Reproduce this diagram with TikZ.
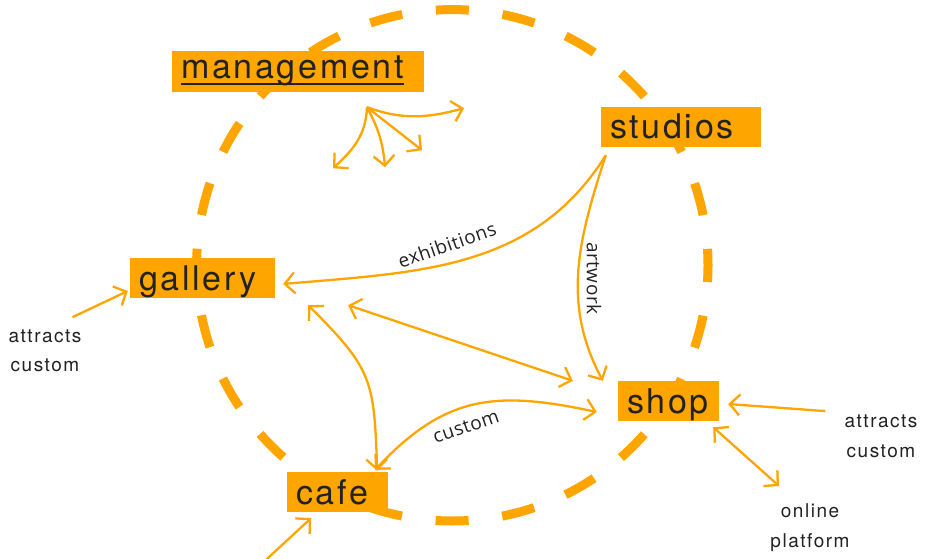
\documentclass[tikz,border=0pt]{standalone}
\usepackage{fontspec}
\newfontfamily\boxfont{TeX Gyre Heros}[LetterSpace=8]
\newfontfamily\edgefont{Open Sans}[LetterSpace=3]
\usepackage{tikz}
\usetikzlibrary{calc,positioning,arrows.meta}
\definecolor{boxorange}{HTML}{FFA500}
\definecolor{inkgray}{HTML}{222222}
\newcommand\mgmtline[1]{\setbox0\hbox{#1}\rlap{\rule[-6pt]{\wd0}{2.4pt}}\box0}

\begin{document}
\begin{tikzpicture}[x=1pt,y=1pt,
		room/.style={fill=boxorange,text=inkgray,font=\boxfont\fontsize{34}{38}\selectfont,align=left,inner xsep=9pt,inner ysep=2pt,text height=30pt,text depth=6pt},
		note/.style={text=inkgray,font=\boxfont\fontsize{19}{23}\selectfont,inner sep=0pt},
		tag/.style={text=inkgray,font=\edgefont\fontsize{19}{23}\selectfont,inner sep=0pt},
		flow/.style={color=boxorange,line width=2.3pt},
		>={Straight Barb[length=10pt,width=21pt]}]
		\useasboundingbox (0,0) rectangle (926,558);
		\draw[boxorange,line width=9pt,dash pattern=on 33pt off 33.94pt,dash phase=16.5pt] (452.3,292.7) circle (255.7pt);
		\node(mgmt) [room,text width=234pt,text height=27pt,text depth=12pt,inner ysep=1pt] at (298,486.5) {\mgmtline{management}};
		\node(studios) [room,text width=142pt] at (681,431) {studios};
		\node(gallery) [room,text width=127pt] at (202.5,280) {gallery};
		\node(shop) [room,text width=83pt] at (668.5,157) {shop};
		\node(cafe) [room,text width=83pt] at (337.5,66) {cafe};
		\node(gattr) [note,anchor=base] at (45,216) {attracts};
		\node(gcust) [note,below=29pt of gattr.base,anchor=base] {custom};
		\node(sattr) [note,anchor=base] at (881,131) {attracts};
		\node(scust) [note,below=30pt of sattr.base,anchor=base] {custom};
		\node(online) [note,anchor=base] at (810,41) {online};
		\node(platform) [note,below=30pt of online.base,anchor=base] {platform};
		\node(exh) [tag,rotate=19] at (447,313) {exhibitions};
		\node(art) [tag,rotate=-90] at (594,279.5) {artwork};
		\node(cus) [tag,rotate=19] at (466,131) {custom};
		\coordinate (hub) at ($(mgmt.south)+(69,-15)$);
		\coordinate (cafein) at (261.5,-6);
		\path[flow,->]
			(hub) edge[out=-20,in=195] ($(hub)+(97,-1)$)
			(hub) edge[out=-92,in=42] ($(hub)+(-34,-61)$)
			(hub) edge[out=-62,in=95] ($(hub)+(18,-60)$)
			(hub) edge ($(hub)+(55,-43)$)
			([xshift=5pt,yshift=-8pt]studios.south west) edge[out=-122,in=5] ([xshift=8pt,yshift=-6pt]gallery.east)
			([xshift=5pt,yshift=-8pt]studios.south west) edge[out=-108,in=118] ([xshift=-15pt]shop.north west)
			([xshift=73pt,yshift=-7pt]gallery.south east) edge[<->] ([xshift=-45pt]shop.north west)
			([xshift=33pt,yshift=-7pt]gallery.south east) edge[<->,out=-45,in=92,looseness=1.3] ([xshift=-11pt,yshift=1pt]cafe.north east)
			([xshift=-13pt,yshift=2pt]cafe.north east) edge[<->,out=47,in=168,looseness=1.15] ([xshift=-21pt,yshift=-11pt]shop.west)
			([xshift=-9pt,yshift=12pt]gattr.north east) edge ([xshift=-2pt,yshift=-13pt]gallery.west)
			([xshift=-19pt,yshift=3pt]sattr.north west) edge ([xshift=9pt,yshift=-3pt]shop.east)
			([xshift=-6pt,yshift=-6pt]shop.south east) edge[<->] ([xshift=-31pt,yshift=17pt]online.north)
			(cafein) edge ([xshift=-26.5pt,yshift=-6pt]cafe.south);
	\end{tikzpicture}
\end{document}
